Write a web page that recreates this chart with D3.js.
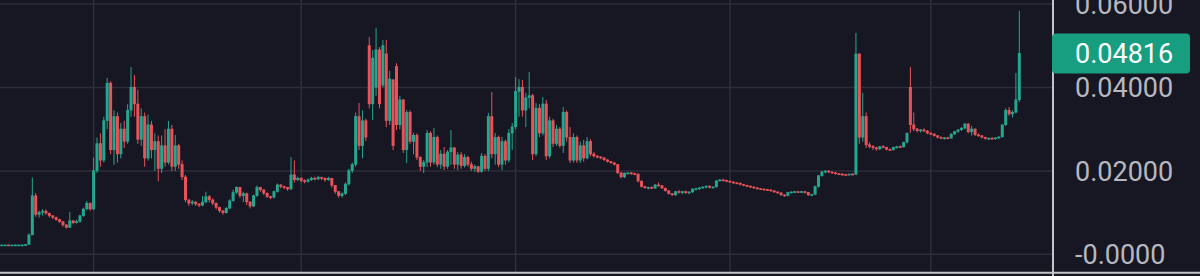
<!DOCTYPE html>
<html><head><meta charset="utf-8">
<script src="https://cdn.jsdelivr.net/npm/d3@7/dist/d3.min.js"></script>
<style>html,body{margin:0;padding:0;background:#161722;overflow:hidden}svg{display:block}</style>
</head><body>
<svg id="chart" width="1200" height="276"></svg>
<script>
// ---- data (price per candle, candles in time order) ----
const opens=[
.0022,.0022,.0022,.0021,.0022,.0022,.0022,.0022,.0023,.0046,
.0140,.0095,.0100,.0103,.0098,.0092,.0088,.0083,.0078,.0070,
.0064,.0080,.0075,.0078,.0092,.0108,.0122,.0108,.0200,.0265,
.0225,.0320,.0410,.0250,.0330,.0240,.0300,.0270,.0345,.0400,
.0360,.0275,.0330,.0230,.0310,.0250,.0270,.0205,.0260,.0220,
.0300,.0210,.0260,.0215,.0185,.0130,.0122,.0125,.0120,.0117,
.0125,.0138,.0130,.0122,.0112,.0104,.0099,.0110,.0128,.0148,
.0160,.0140,.0145,.0125,.0115,.0140,.0160,.0154,.0146,.0138,
.0136,.0150,.0166,.0162,.0160,.0156,.0190,.0178,.0182,.0176,
.0174,.0178,.0182,.0180,.0184,.0182,.0178,.0182,.0165,.0150,
.0140,.0145,.0168,.0200,.0215,.0330,.0260,.0320,.0500,.0360,
.0400,.0490,.0405,.0480,.0320,.0418,.0450,.0310,.0370,.0250,
.0340,.0270,.0285,.0232,.0210,.0220,.0290,.0220,.0280,.0215,
.0240,.0210,.0245,.0255,.0215,.0238,.0212,.0232,.0215,.0205,
.0210,.0198,.0235,.0205,.0330,.0240,.0280,.0215,.0270,.0225,
.0290,.0305,.0390,.0400,.0345,.0375,.0380,.0240,.0350,.0290,
.0360,.0235,.0320,.0265,.0300,.0260,.0340,.0280,.0225,.0280,
.0225,.0260,.0230,.0270,.0240,.0235,.0233,.0231,.0226,.0222,
.0219,.0215,.0195,.0185,.0194,.0195,.0193,.0192,.0175,.0162,
.0159,.0160,.0158,.0166,.0164,.0158,.0152,.0145,.0142,.0150,
.0148,.0150,.0147,.0149,.0156,.0157,.0159,.0161,.0163,.0160,
.0161,.0176,.0178,.0177,.0175,.0173,.0171,.0170,.0167,.0165,
.0163,.0161,.0159,.0157,.0156,.0155,.0154,.0152,.0149,.0147,
.0142,.0140,.0148,.0149,.0150,.0149,.0150,.0148,.0142,.0143,
.0162,.0188,.0197,.0199,.0197,.0195,.0193,.0192,.0191,.0190,
.0192,.0191,.0480,.0280,.0330,.0262,.0258,.0255,.0252,.0258,
.0256,.0251,.0250,.0256,.0258,.0257,.0268,.0400,.0310,.0300,
.0296,.0298,.0295,.0290,.0288,.0284,.0280,.0278,.0279,.0278,
.0288,.0294,.0298,.0302,.0312,.0293,.0300,.0286,.0284,.0280,
.0277,.0278,.0277,.0279,.0281,.0310,.0345,.0336,.0340,.0370];
const highs=[
.0023,.0023,.0023,.0022,.0023,.0023,.0023,.0024,.0050,.0184,
.0147,.0105,.0108,.0108,.0100,.0094,.0090,.0085,.0079,.0072,
.0102,.0082,.0083,.0095,.0112,.0128,.0124,.0232,.0280,.0290,
.0330,.0423,.0415,.0345,.0340,.0315,.0320,.0360,.0449,.0430,
.0395,.0350,.0340,.0335,.0320,.0290,.0285,.0285,.0300,.0320,
.0310,.0286,.0265,.0225,.0190,.0132,.0130,.0127,.0123,.0140,
.0150,.0142,.0134,.0124,.0114,.0106,.0113,.0132,.0155,.0163,
.0162,.0150,.0148,.0127,.0143,.0165,.0162,.0156,.0148,.0140,
.0153,.0170,.0168,.0165,.0162,.0233,.0225,.0186,.0184,.0180,
.0182,.0186,.0186,.0188,.0186,.0184,.0186,.0183,.0166,.0152,
.0148,.0172,.0205,.0220,.0340,.0363,.0345,.0325,.0521,.0490,
.0543,.0497,.0514,.0514,.0440,.0420,.0458,.0380,.0372,.0346,
.0345,.0291,.0290,.0235,.0226,.0298,.0295,.0303,.0285,.0250,
.0257,.0250,.0298,.0257,.0245,.0245,.0240,.0236,.0222,.0215,
.0212,.0243,.0240,.0339,.0389,.0291,.0285,.0281,.0275,.0300,
.0315,.0425,.0420,.0418,.0387,.0437,.0385,.0363,.0360,.0377,
.0370,.0330,.0325,.0310,.0305,.0353,.0345,.0305,.0290,.0285,
.0270,.0274,.0281,.0276,.0245,.0238,.0235,.0232,.0228,.0224,
.0221,.0216,.0197,.0196,.0197,.0197,.0196,.0194,.0177,.0164,
.0162,.0163,.0168,.0172,.0166,.0160,.0154,.0147,.0152,.0154,
.0152,.0153,.0151,.0158,.0160,.0161,.0163,.0165,.0165,.0163,
.0178,.0180,.0181,.0179,.0177,.0175,.0173,.0172,.0169,.0167,
.0165,.0163,.0161,.0159,.0158,.0157,.0156,.0153,.0151,.0148,
.0144,.0150,.0151,.0152,.0152,.0152,.0152,.0149,.0145,.0165,
.0190,.0200,.0202,.0202,.0199,.0197,.0195,.0194,.0193,.0193,
.0194,.0531,.0482,.0387,.0340,.0268,.0262,.0258,.0260,.0262,
.0258,.0254,.0258,.0260,.0261,.0270,.0292,.0449,.0340,.0303,
.0300,.0302,.0298,.0293,.0290,.0286,.0283,.0281,.0282,.0290,
.0296,.0300,.0305,.0315,.0315,.0308,.0302,.0290,.0286,.0282,
.0280,.0281,.0281,.0283,.0312,.0350,.0353,.0345,.0435,.0584];
const lows=[
.0021,.0021,.0021,.0020,.0021,.0021,.0021,.0021,.0022,.0046,
.0090,.0088,.0093,.0095,.0088,.0084,.0080,.0075,.0066,.0062,
.0063,.0072,.0074,.0076,.0090,.0106,.0104,.0106,.0195,.0210,
.0220,.0300,.0240,.0215,.0220,.0230,.0255,.0265,.0330,.0330,
.0265,.0260,.0210,.0225,.0230,.0200,.0175,.0195,.0210,.0215,
.0200,.0200,.0205,.0178,.0125,.0116,.0118,.0116,.0113,.0115,
.0122,.0124,.0118,.0108,.0100,.0095,.0098,.0108,.0126,.0145,
.0135,.0125,.0118,.0110,.0113,.0138,.0150,.0142,.0135,.0132,
.0134,.0148,.0158,.0156,.0152,.0154,.0172,.0176,.0172,.0170,
.0172,.0176,.0177,.0178,.0178,.0174,.0176,.0160,.0145,.0136,
.0136,.0142,.0165,.0195,.0210,.0250,.0230,.0272,.0350,.0322,
.0380,.0350,.0400,.0305,.0310,.0250,.0298,.0300,.0243,.0219,
.0265,.0240,.0226,.0200,.0195,.0209,.0210,.0215,.0209,.0205,
.0202,.0205,.0215,.0205,.0202,.0205,.0208,.0210,.0200,.0198,
.0195,.0196,.0200,.0200,.0230,.0215,.0209,.0202,.0215,.0220,
.0250,.0300,.0330,.0330,.0305,.0350,.0226,.0235,.0281,.0285,
.0226,.0230,.0257,.0260,.0255,.0243,.0270,.0219,.0220,.0219,
.0219,.0222,.0228,.0235,.0232,.0230,.0228,.0224,.0220,.0217,
.0213,.0192,.0182,.0183,.0191,.0191,.0190,.0172,.0160,.0157,
.0156,.0157,.0157,.0162,.0157,.0150,.0143,.0140,.0140,.0146,
.0144,.0145,.0144,.0147,.0153,.0154,.0157,.0158,.0158,.0158,
.0160,.0174,.0175,.0173,.0171,.0169,.0168,.0165,.0163,.0161,
.0159,.0157,.0155,.0154,.0153,.0152,.0150,.0147,.0145,.0140,
.0138,.0139,.0146,.0147,.0147,.0147,.0146,.0140,.0140,.0142,
.0160,.0186,.0194,.0195,.0193,.0191,.0190,.0189,.0189,.0189,
.0190,.0190,.0265,.0270,.0255,.0254,.0250,.0248,.0250,.0254,
.0249,.0248,.0249,.0253,.0255,.0256,.0266,.0291,.0295,.0292,
.0292,.0293,.0288,.0286,.0282,.0278,.0276,.0275,.0276,.0277,
.0286,.0291,.0296,.0300,.0290,.0285,.0284,.0282,.0278,.0275,
.0274,.0275,.0275,.0276,.0280,.0308,.0332,.0328,.0338,.0365];
const closes=[
.0022,.0022,.0021,.0022,.0022,.0022,.0022,.0023,.0046,.0140,
.0095,.0100,.0103,.0098,.0092,.0088,.0083,.0078,.0070,.0064,
.0080,.0075,.0078,.0092,.0108,.0122,.0108,.0200,.0265,.0225,
.0320,.0410,.0250,.0330,.0240,.0300,.0270,.0345,.0400,.0360,
.0275,.0330,.0230,.0310,.0250,.0270,.0205,.0260,.0220,.0300,
.0210,.0260,.0215,.0185,.0130,.0122,.0125,.0120,.0117,.0125,
.0138,.0130,.0122,.0112,.0104,.0099,.0110,.0128,.0148,.0160,
.0140,.0145,.0125,.0115,.0140,.0160,.0154,.0146,.0138,.0136,
.0150,.0166,.0162,.0160,.0156,.0190,.0178,.0182,.0176,.0174,
.0178,.0182,.0180,.0184,.0182,.0178,.0182,.0165,.0150,.0140,
.0145,.0168,.0200,.0215,.0330,.0260,.0320,.0280,.0360,.0470,
.0490,.0360,.0500,.0320,.0420,.0260,.0310,.0370,.0250,.0340,
.0270,.0285,.0232,.0210,.0220,.0290,.0220,.0280,.0215,.0240,
.0210,.0245,.0255,.0215,.0238,.0212,.0232,.0215,.0205,.0210,
.0198,.0235,.0205,.0330,.0240,.0280,.0215,.0270,.0225,.0290,
.0305,.0390,.0400,.0345,.0375,.0380,.0240,.0350,.0290,.0360,
.0235,.0320,.0265,.0300,.0260,.0340,.0280,.0225,.0280,.0225,
.0260,.0230,.0270,.0240,.0235,.0233,.0231,.0226,.0222,.0219,
.0215,.0195,.0185,.0194,.0195,.0193,.0192,.0175,.0162,.0159,
.0160,.0158,.0166,.0164,.0158,.0152,.0145,.0142,.0150,.0148,
.0150,.0147,.0149,.0156,.0157,.0159,.0161,.0163,.0160,.0161,
.0176,.0178,.0177,.0175,.0173,.0171,.0170,.0167,.0165,.0163,
.0161,.0159,.0157,.0156,.0155,.0154,.0152,.0149,.0147,.0142,
.0140,.0148,.0149,.0150,.0149,.0150,.0148,.0142,.0143,.0162,
.0188,.0197,.0199,.0197,.0195,.0193,.0192,.0191,.0190,.0192,
.0191,.0480,.0280,.0330,.0262,.0258,.0255,.0252,.0258,.0256,
.0251,.0250,.0256,.0258,.0257,.0268,.0290,.0310,.0300,.0296,
.0298,.0295,.0290,.0288,.0284,.0280,.0278,.0279,.0278,.0288,
.0294,.0298,.0302,.0312,.0293,.0300,.0286,.0284,.0280,.0277,
.0278,.0277,.0279,.0281,.0310,.0345,.0336,.0340,.0370,.04816];
const tickValues=[0.06,0.04,0.02,0];
const tickLabels=["0.06000","0.04000","0.02000","-0.0000"];
const gridCandles=[27,88,151,214,273];

// ---- drawing ----
const W=1200,H=276,axisX=1053,baseY=272.7;
const UP="#26a68f",DOWN="#e8535a";
const svg=d3.select("#chart");
svg.append("rect").attr("width",W).attr("height",H).attr("fill","#161722");
const n=closes.length;
const x=d3.scaleBand().domain(d3.range(n)).range([0,1021]).paddingInner(0.12).paddingOuter(0.06);
const y=d3.scaleLinear().domain([0,0.06]).range([254.3,4.1]);
const cx=i=>x(i)+x.bandwidth()/2;

const grid=svg.append("g");
grid.selectAll("line.h").data(tickValues).join("line").attr("class","h")
  .attr("x1",0).attr("x2",axisX).attr("y1",d=>y(d)).attr("y2",d=>y(d))
  .attr("stroke","#2c2e3a").attr("stroke-width",1.5);
grid.selectAll("line.v").data(gridCandles).join("line").attr("class","v")
  .attr("x1",cx).attr("x2",cx).attr("y1",0).attr("y2",baseY)
  .attr("stroke","#2c2e3a").attr("stroke-width",1.5);

const data=d3.range(n).map(i=>({i,o:opens[i],h:highs[i],l:lows[i],c:closes[i]}));
const col=d=>d.c>=d.o?UP:DOWN;
const cg=svg.append("g");
cg.selectAll("line").data(data).join("line")
  .attr("x1",d=>cx(d.i)).attr("x2",d=>cx(d.i))
  .attr("y1",d=>y(d.h)).attr("y2",d=>y(d.l))
  .attr("stroke",col).attr("stroke-width",1);
cg.selectAll("rect").data(data).join("rect")
  .attr("x",d=>x(d.i)).attr("width",x.bandwidth())
  .attr("y",d=>y(Math.max(d.o,d.c))-0.5)
  .attr("height",d=>Math.max(1.6,Math.abs(y(d.o)-y(d.c))+0.5))
  .attr("fill",col);

// axis lines
svg.append("line").attr("x1",0).attr("x2",W).attr("y1",baseY).attr("y2",baseY)
  .attr("stroke","#c4c5cb").attr("stroke-width",2);
svg.append("line").attr("x1",axisX).attr("x2",axisX).attr("y1",0).attr("y2",H)
  .attr("stroke","#c4c5cb").attr("stroke-width",2);

const yAxis=d3.axisRight(y).tickValues(tickValues)
  .tickFormat((d,i)=>tickLabels[i]).tickSize(0).tickPadding(22);
const ag=svg.append("g").attr("transform",`translate(${axisX},0)`).call(yAxis);
ag.select(".domain").remove();
ag.selectAll("text").attr("fill","#b6b8c0").attr("font-size",27)
  .attr("font-family","Roboto, 'Noto Sans', sans-serif").attr("dy","0.35em");

// last price label
const last=closes[n-1];
const ly=y(last);
svg.append("rect").attr("x",1052).attr("y",ly-20).attr("width",138).attr("height",40)
  .attr("rx",4).attr("fill","#179e80");
svg.append("text").attr("x",1075).attr("y",ly).attr("dy","0.35em")
  .attr("fill","#ffffff").attr("font-size",27)
  .attr("font-family","Roboto, 'Noto Sans', sans-serif")
  .text(d3.format(".5f")(last));
</script>
</body></html>
